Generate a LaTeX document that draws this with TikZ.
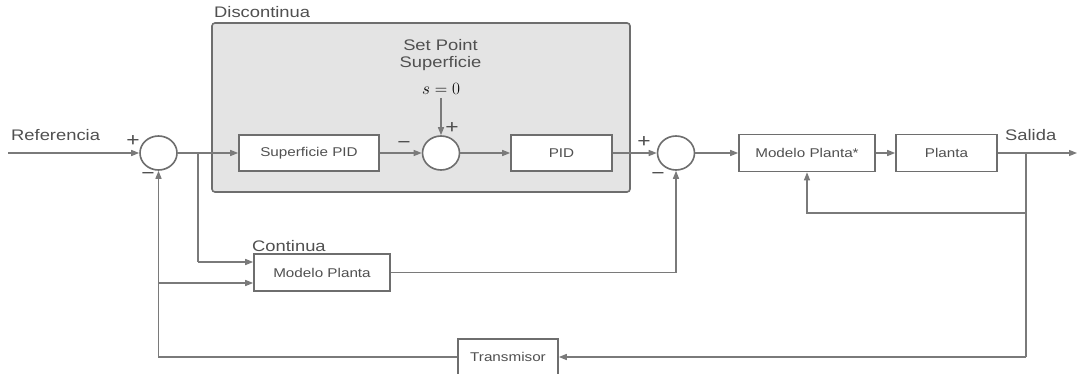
\documentclass[tikz,border=0pt]{standalone}
\usepackage[no-math]{fontspec}
\setmainfont[FakeStretch=1.2]{Liberation Sans}
\usetikzlibrary{arrows.meta,shapes.geometric}
\definecolor{lncol}{HTML}{7A7A7A}
\definecolor{txtcol}{HTML}{505050}
\definecolor{boxfill}{HTML}{E4E4E4}
\definecolor{boxdraw}{HTML}{6E6E6E}
\tikzset{
  lbl/.style={text=txtcol, font=\fontsize{15.3}{18}\selectfont, inner sep=0pt},
  sgn/.style={text=txtcol, font=\fontsize{19}{20}\selectfont, inner sep=0pt},
  block/.style={draw=boxdraw, line width=1.6pt, fill=white, text=txtcol,
    font=\fontsize{12.7}{15}\selectfont, inner sep=0pt},
  sumnode/.style={ellipse, draw=boxdraw, line width=1.6pt, fill=white,
    minimum width=37pt, minimum height=34pt, inner sep=0pt},
  graybox/.style={draw=boxdraw, line width=1.6pt, fill=boxfill, rounded corners=3pt,
    inner sep=0pt},
  wire/.style={draw=lncol, line width=1.3pt},
  arr/.style={wire, -{Triangle[length=8pt,width=6pt]}}
}
\begin{document}
\begin{tikzpicture}[x=1pt,y=-1pt]
\fill[white] (0,0) rectangle (1078,374);
\useasboundingbox (0,0) rectangle (1078,374);

% discontinuous region
\node[graybox, minimum width=418pt, minimum height=169pt] (disc) at (421,107.5) {};
\node[lbl, anchor=base west] (dl) at (214,18) {Discontinua};
\node[lbl, anchor=base] (sp1) at (440.5,51) {Set Point};
\node[lbl, anchor=base] (sp2) at (440.5,68) {Superficie};
\node[text=black, inner sep=0pt, font=\fontsize{17}{18}\selectfont] (sz) at (441,89) {$s=0$};

% blocks
\node[sumnode] (s1) at (158.5,153) {};
\node[block, minimum width=140pt, minimum height=36pt] (spid) at (309,153) {Superficie PID};
\node[sumnode] (s2) at (441,153) {};
\node[block, minimum width=101pt, minimum height=36pt] (pid) at (561.5,153) {PID};
\node[sumnode] (s3) at (676,153) {};
\node[block, minimum width=136pt, minimum height=37pt] (mps) at (807,153) {Modelo Planta*};
\node[block, minimum width=101pt, minimum height=37pt] (pl) at (946.5,153) {Planta};
\node[block, minimum width=136pt, minimum height=37pt] (mp) at (322,272.5) {Modelo Planta};
\node[block, minimum width=100pt, minimum height=36pt] (tr) at (508,357) {Transmisor};

% labels
\node[lbl, anchor=base west] (ref) at (11,141) {Referencia};
\node[lbl, anchor=base west] (sal) at (1005,141) {Salida};
\node[lbl, anchor=base west] (cont) at (252,251) {Continua};

% signs
\node[sgn] (p1) at (133,141) {+};
\node[sgn] (m1) at (148,176) {−};
\node[sgn] (m2) at (404,145) {−};
\node[sgn] (p2) at (452,128) {+};
\node[sgn] (p3) at (644,142) {+};
\node[sgn] (m3) at (658,176) {−};

% coordinates
\coordinate (in) at (8,153);
\coordinate (out) at (1077,153);
\coordinate (b1) at (198,153);
\coordinate (b1d) at (198,262);
\coordinate (b2) at (1026,153);
\coordinate (b2d) at (1026,357);
\coordinate (b3) at (1026,213);
\coordinate (b4) at (158.5,283);

% connectors
\draw[arr] (in) -- (s1.west);
\draw[arr] (s1.east) -- (spid.west);
\draw[wire] (b1) -- (b1d);
\draw[arr] (b1d) -- (b1d -| mp.west);
\draw[arr] (spid.east) -- (s2.west);
\draw[arr] ([yshift=-3pt]sz.south) -- (s2.north);
\draw[arr] (s2.east) -- (pid.west);
\draw[arr] (pid.east) -- (s3.west);
\draw[arr] (s3.east) -- (mps.west);
\draw[arr] (mps.east) -- (pl.west);
\draw[arr] (pl.east) -- (out);
\draw[wire] (b2) -- (b2d);
\draw[arr] (b2d) -- (tr.east);
\draw[arr] (b3) -| (mps.south);
\draw[arr] (tr.west) -| (s1.south);
\draw[arr] (b4) -- (b4 -| mp.west);
\draw[arr] (mp.east) -| (s3.south);
\end{tikzpicture}
\end{document}
